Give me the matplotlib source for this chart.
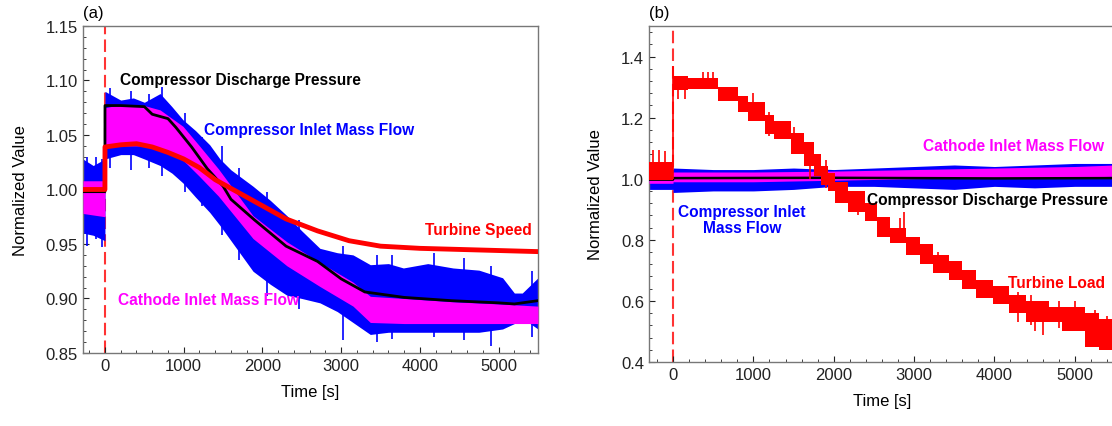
import numpy as np
import matplotlib
matplotlib.use('Agg')
from matplotlib import pyplot as plt
from matplotlib.ticker import MultipleLocator

plt.rcParams['font.family'] = ['Liberation Sans', 'DejaVu Sans']

# ---------------- panel (a) data ----------------
# turbine speed (red)
speed_t = [-280, -1, 0, 200, 400, 600, 800, 1000, 1200, 1400, 1600, 1800, 2000,
           2300, 2700, 3100, 3500, 4000, 4500, 5000, 5500]
speed_v = [1.000, 1.000, 1.039, 1.041, 1.042, 1.039, 1.034, 1.028, 1.020, 1.009,
           1.001, 0.993, 0.985, 0.973, 0.962, 0.953, 0.948, 0.946, 0.945, 0.944, 0.943]

# compressor discharge pressure (black)
cdp_t = [-280, -1, 0, 200, 500, 600, 800, 900, 1100, 1300, 1500, 1600, 1900,
         2300, 2700, 3000, 3300, 3500, 3800, 4400, 5000, 5200, 5500]
cdp_v = [0.998, 0.998, 1.077, 1.077, 1.076, 1.069, 1.065, 1.057, 1.039, 1.019,
         1.003, 0.991, 0.972, 0.948, 0.934, 0.918, 0.906, 0.904, 0.901, 0.898,
         0.896, 0.895, 0.898]

# compressor inlet mass flow (blue) - envelope of the noisy signal
cimf_t = [-280, -150, -1, 0, 100, 200, 360, 500, 700, 850, 990, 1150, 1330, 1460,
          1600, 1880, 2100, 2310, 2500, 2730, 2950, 3150, 3370, 3600, 3790, 4100,
          4420, 4750, 5050, 5200, 5300, 5500]
cimf_hi = [1.028, 1.022, 1.028, 1.090, 1.086, 1.082, 1.084, 1.080, 1.088, 1.076,
           1.064, 1.054, 1.041, 1.028, 1.018, 1.003, 0.990, 0.976, 0.962, 0.946,
           0.942, 0.940, 0.931, 0.932, 0.928, 0.932, 0.928, 0.926, 0.919, 0.905,
           0.905, 0.919]
cimf_lo = [0.960, 0.958, 0.953, 1.028, 1.030, 1.032, 1.032, 1.028, 1.022, 1.015,
           1.006, 0.993, 0.979, 0.967, 0.953, 0.925, 0.913, 0.903, 0.900, 0.896,
           0.888, 0.878, 0.867, 0.869, 0.869, 0.869, 0.869, 0.869, 0.872, 0.877,
           0.882, 0.872]
# visible spikes of the blue signal (time, low, high)
cimf_spk_t = [-230, -120, -40, 60, 330, 560, 720, 1010, 1230, 1480, 1700, 2060,
              2460, 3020, 3450, 3640, 4180, 4560, 4900, 5420]
cimf_spk_lo = [0.948, 0.955, 0.947, 1.020, 1.018, 1.020, 1.012, 0.998, 0.985,
               0.958, 0.935, 0.902, 0.890, 0.862, 0.860, 0.863, 0.865, 0.862,
               0.856, 0.865]
cimf_spk_hi = [1.030, 1.030, 1.028, 1.093, 1.090, 1.088, 1.094, 1.070, 1.048,
               1.040, 1.020, 0.998, 0.972, 0.948, 0.940, 0.940, 0.942, 0.937,
               0.930, 0.925]
cimf_gap_t = [2640, 2900, 2900]
cimf_gap_v = [0.939, 0.939, 0.915]

# cathode inlet mass flow (magenta) - envelope
cath_t = [-280, -1, 0, 200, 500, 700, 990, 1200, 1440, 1880, 2310, 2730, 3150,
          3370, 3800, 4420, 5000, 5500]
cath_hi = [1.008, 1.008, 1.075, 1.078, 1.077, 1.073, 1.058, 1.040, 1.019, 0.976,
           0.952, 0.933, 0.915, 0.902, 0.900, 0.897, 0.895, 0.893]
cath_lo = [0.978, 0.975, 1.040, 1.040, 1.040, 1.036, 1.027, 1.012, 0.994, 0.955,
           0.930, 0.911, 0.893, 0.878, 0.877, 0.877, 0.877, 0.877]

# ---------------- panel (b) data ----------------
load_t = [-300, 0, 190, 560, 810, 930, 1140, 1260, 1470, 1630, 1760, 1840, 1930,
          2010, 2180, 2390, 2540, 2700, 2900, 3070, 3230, 3440, 3600, 3770, 3980,
          4180, 4390, 4680, 4840, 5130, 5300, 5500]
load_hi = [1.055, 1.335, 1.33, 1.30, 1.27, 1.25, 1.21, 1.19, 1.15, 1.12, 1.08,
           1.04, 1.02, 0.99, 0.96, 0.92, 0.875, 0.84, 0.81, 0.785, 0.75, 0.73,
           0.70, 0.67, 0.65, 0.62, 0.60, 0.58, 0.58, 0.56, 0.54, 0.54]
load_lo = [0.995, 1.29, 1.295, 1.255, 1.22, 1.19, 1.145, 1.13, 1.08, 1.04, 1.01,
           0.98, 0.96, 0.92, 0.89, 0.86, 0.81, 0.79, 0.75, 0.72, 0.69, 0.67, 0.64,
           0.61, 0.59, 0.56, 0.53, 0.53, 0.50, 0.45, 0.44, 0.44]
# visible spikes of the load signal (time, low, high)
load_spk_t = [-250, -180, -100, 5, 60, 150, 370, 430, 500, 700, 1000, 1200, 1500,
              1700, 1900, 2300, 2820, 2880, 3300, 3650, 4300, 4450, 4500, 4600,
              4800, 5000, 5250, 5400]
load_spk_lo = [1.00, 1.00, 1.00, 1.00, 1.26, 1.26, 1.30, 1.30, 1.30, 1.26, 1.20,
               1.14, 1.10, 1.00, 0.97, 0.88, 0.80, 0.80, 0.70, 0.64, 0.53, 0.52,
               0.50, 0.49, 0.51, 0.50, 0.45, 0.44]
load_spk_hi = [1.093, 1.093, 1.09, 1.37, 1.33, 1.33, 1.35, 1.35, 1.35, 1.30, 1.28,
               1.22, 1.17, 1.10, 1.06, 0.95, 0.87, 0.89, 0.76, 0.70, 0.63, 0.62,
               0.60, 0.59, 0.60, 0.60, 0.57, 0.55]

cdp_b_t = [-300, -1, 0, 2000, 4000, 5500]
cdp_b_v = [0.997, 0.997, 1.002, 1.003, 1.001, 1.002]

cath_b_t = [-300, -1, 0, 1000, 2000, 3000, 4000, 5000, 5500]
cath_b_hi = [1.020, 1.020, 1.022, 1.022, 1.025, 1.030, 1.035, 1.040, 1.045]
cath_b_lo = [0.985, 0.985, 0.990, 0.990, 0.995, 1.000, 1.003, 1.005, 1.008]

cimf_b_t = [-300, -1, 0, 500, 1000, 1500, 2000, 2500, 3000, 3500, 4000, 4500, 5000, 5500]
cimf_b_hi = [1.030, 1.030, 1.035, 1.030, 1.030, 1.035, 1.030, 1.035, 1.040, 1.045,
             1.040, 1.045, 1.050, 1.050]
cimf_b_lo = [0.965, 0.965, 0.955, 0.960, 0.960, 0.965, 0.975, 0.975, 0.970, 0.965,
             0.975, 0.970, 0.975, 0.975]

BLUE = '#0000ff'
MAG = '#ff00ff'
RED = '#ff0000'
LBL = 11.2


def style_axes(ax):
    for s in ax.spines.values():
        s.set_color('#777777')
        s.set_linewidth(1.0)
    ax.tick_params(which='both', direction='in', top=False, right=False,
                   labelsize=12, colors='#222222')
    ax.tick_params(which='major', length=4)
    ax.tick_params(which='minor', length=2.5)
    ax.xaxis.set_major_locator(MultipleLocator(1000))
    ax.xaxis.set_minor_locator(MultipleLocator(200))
    ax.set_xlabel('Time [s]', fontsize=12, labelpad=8)
    ax.set_ylabel('Normalized Value', fontsize=12, labelpad=13)


fig = plt.figure(figsize=(11.12, 4.27), dpi=100)

# ---- (a) ----
ax1 = fig.add_axes([0.0746, 0.171, 0.4092, 0.7658])
ax1.axvline(0, color='#ff3333', lw=1.5, dashes=(6, 2.5), zorder=1)
ax1.fill_between(cimf_t, cimf_lo, cimf_hi, color=BLUE, lw=0, zorder=2)
ax1.vlines(cimf_spk_t, cimf_spk_lo, cimf_spk_hi, color=BLUE, lw=1.2, zorder=2)
ax1.plot(cimf_gap_t, cimf_gap_v, color=BLUE, lw=1, zorder=2)
ax1.fill_between(cath_t, cath_lo, cath_hi, color=MAG, lw=0, zorder=3)
ax1.plot(cdp_t, cdp_v, color='black', lw=2, zorder=4)
ax1.plot(speed_t, speed_v, color=RED, lw=3.5, zorder=5)
ax1.set_xlim(-280, 5500)
ax1.set_ylim(0.85, 1.15)
ax1.yaxis.set_major_locator(MultipleLocator(0.05))
ax1.yaxis.set_minor_locator(MultipleLocator(0.01))
ax1.yaxis.set_major_formatter(plt.FormatStrFormatter('%.2f'))
style_axes(ax1)
ax1.text(0.0, 1.04, '(a)', transform=ax1.transAxes, fontsize=12, ha='left', va='center')
ax1.text(190, 1.101, 'Compressor Discharge Pressure', color='black', fontsize=LBL,
         fontweight='bold', va='center', ha='left')
ax1.text(1258, 1.055, 'Compressor Inlet Mass Flow', color=BLUE, fontsize=LBL,
         fontweight='bold', va='center', ha='left')
ax1.text(4066, 0.963, 'Turbine Speed', color=RED, fontsize=LBL,
         fontweight='bold', va='center', ha='left')
ax1.text(165, 0.899, 'Cathode Inlet Mass Flow', color=MAG, fontsize=LBL,
         fontweight='bold', va='center', ha='left', zorder=6)

# ---- (b) ----
ax2 = fig.add_axes([0.5836, 0.1499, 0.419, 0.7869])
ax2.axvline(0, color='#ff3333', lw=1.5, dashes=(6, 2.5), zorder=1)
ax2.fill_between(cimf_b_t, cimf_b_lo, cimf_b_hi, color=BLUE, lw=0, zorder=2)
ax2.fill_between(cath_b_t, cath_b_lo, cath_b_hi, color=MAG, lw=0, zorder=3)
ax2.plot(cdp_b_t, cdp_b_v, color='black', lw=1.8, zorder=4)
ax2.fill_between(load_t, load_lo, load_hi, step='post', color=RED, lw=0, zorder=5)
ax2.vlines(load_spk_t, load_spk_lo, load_spk_hi, color=RED, lw=1.2, zorder=5)
ax2.set_xlim(-300, 5500)
ax2.set_ylim(0.4, 1.5)
ax2.yaxis.set_major_locator(MultipleLocator(0.2))
ax2.yaxis.set_minor_locator(MultipleLocator(0.04))
ax2.yaxis.set_major_formatter(plt.FormatStrFormatter('%.1f'))
style_axes(ax2)
ax2.text(0.0, 1.039, '(b)', transform=ax2.transAxes, fontsize=12, ha='left', va='center')
ax2.text(3113, 1.110, 'Cathode Inlet Mass Flow', color=MAG, fontsize=LBL,
         fontweight='bold', va='center', ha='left')
ax2.text(2416, 0.931, 'Compressor Discharge Pressure', color='black', fontsize=LBL,
         fontweight='bold', va='center', ha='left', zorder=6)
ax2.text(860, 0.866, 'Compressor Inlet\nMass Flow', color=BLUE, fontsize=LBL,
         fontweight='bold', va='center', ha='center', multialignment='center',
         linespacing=1.1)
ax2.text(4172, 0.661, 'Turbine Load', color=RED, fontsize=LBL,
         fontweight='bold', va='center', ha='left', zorder=6)

fig.savefig('out.png', dpi=100)
